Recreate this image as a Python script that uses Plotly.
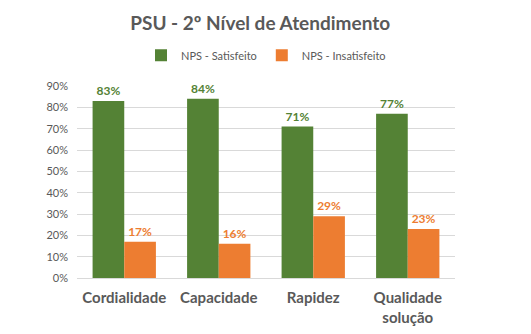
import plotly.graph_objects as go

categories = ["Cordialidade", "Capacidade", "Rapidez", "Qualidade<br>solução"]
satisfeito = [0.83, 0.84, 0.71, 0.77]
insatisfeito = [0.17, 0.16, 0.29, 0.23]
series_names = ["NPS - Satisfeito", "NPS - Insatisfeito"]
tick_vals = [0, 0.1, 0.2, 0.3, 0.4, 0.5, 0.6, 0.7, 0.8, 0.9]

GREEN = "#548235"
ORANGE = "#ED7D31"
GREY = "#595959"
FONT = "Lato"

fig = go.Figure()
for name, vals, col in [(series_names[0], satisfeito, GREEN), (series_names[1], insatisfeito, ORANGE)]:
    fig.add_trace(go.Bar(
        x=categories, y=vals, name=name, marker=dict(color=col, line=dict(width=0)),
        text=[f"<b>{round(v*100)}%</b>" for v in vals], textposition="outside",
        textfont=dict(color=col, size=12, family=FONT), cliponaxis=False,
    ))

fig.update_layout(
    width=531, height=334,
    margin=dict(l=77, r=76, t=86, b=56, autoexpand=False),
    paper_bgcolor="white", plot_bgcolor="white",
    barmode="group", bargap=0.33, bargroupgap=0,
    title=dict(text="<b>PSU - 2º Nível de Atendimento</b>", x=0.49, xanchor="center",
               y=0.93, yanchor="middle", font=dict(size=19, color=GREY, family=FONT)),
    legend=dict(orientation="h", x=0.50, xanchor="center", y=1.16, yanchor="middle",
                font=dict(size=11, color=GREY, family=FONT), itemwidth=30, traceorder="normal"),
    font=dict(family=FONT, color=GREY),
    showlegend=True,
)
fig.update_yaxes(range=[0, 0.9], tickvals=tick_vals, tickformat=".0%",
                 showgrid=True, gridcolor="#D9D9D9", gridwidth=1, zeroline=False,
                 showline=False, ticks="", ticklabelstandoff=8, automargin=False,
                 tickfont=dict(size=11, color=GREY, family=FONT))
fig.update_xaxes(showline=True, linecolor="#D9D9D9", linewidth=1, ticks="", automargin=False,
                 tickfont=dict(size=15, color=GREY, family=FONT), ticklabelstandoff=6)
fig.update_xaxes(tickprefix="<b>", ticksuffix="</b>")

fig.write_html("out.html")
